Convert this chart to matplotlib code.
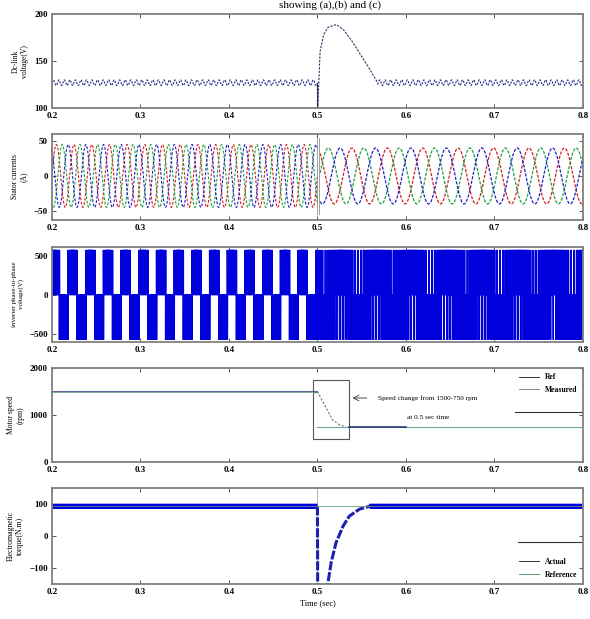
import numpy as np
import matplotlib
matplotlib.use('Agg')
import matplotlib.pyplot as plt
from matplotlib.patches import Rectangle
from matplotlib.lines import Line2D

plt.rcParams['font.family'] = ['Liberation Serif', 'DejaVu Serif']
plt.rcParams['font.weight'] = 'bold'

# ---- values ----
x_ticks = [0.2, 0.3, 0.4, 0.5, 0.6, 0.7, 0.8]
x_labels = ['0.2', '0.3', '0.4', '0.5', '0.6', '0.7', '0.8']
t_step = 0.5

# dc-link voltage
dc_level = 127
dc_ripple = 3
dc_ripple_hz = 160
dc_t = [0.5, 0.5004, 0.503, 0.507, 0.512, 0.5215, 0.53, 0.54, 0.55, 0.56, 0.568]
dc_v = [127, 100, 160, 178, 186, 189, 183, 170, 155, 140, 127]
dc_yticks = [100, 150, 200]

# stator currents
i_amp = [45, 40]        # before / after the step
i_hz = [50, 25]
i_start_after = 0.503
i_yticks = [-50, 0, 50]

# inverter line voltage
v_dc = 570
v_mod = [0.9, 0.6]
v_carrier_hz = [2000, 2300]
v_carrier_shift = [0.08, 0.3]
v_yticks = [-500, 0, 500]

# motor speed
sp_before = 1500
sp_after = 750
sp_t = [0.5, 0.505, 0.51, 0.517, 0.525, 0.532]
sp_v = [1500, 1320, 1150, 900, 790, 750]
sp_yticks = [0, 1000, 2000]
box_t = [0.4949, 0.5356]
box_v = [489, 1745]

# electromagnetic torque
tq_ref = 95
tq_level = 93
tq_ripple = 7
tq_ripple_hz = 1000
tq_t = [0.5, 0.5003, 0.5117, 0.5155, 0.521, 0.529, 0.536, 0.5475, 0.559]
tq_v = [93, -170, -150, -83, -21, 31, 62, 84, 93]
tq_yticks = [-100, 0, 100]

fig = plt.figure(figsize=(5.9, 6.19), dpi=100)
L, W = 0.088, 0.900
rects = [(0.8255, 0.1515), (0.6446, 0.1389), (0.4475, 0.1535),
         (0.2536, 0.1519), (0.0565, 0.1551)]
axes = [fig.add_axes([L, b, W, h]) for b, h in rects]

navy = '#2a2a8a'
blue = '#0000dd'

# (1) dc-link voltage
ax = axes[0]
t1 = np.arange(0.2, 0.5, 2e-4)
ax.plot(t1, dc_level + dc_ripple * np.sin(2 * np.pi * dc_ripple_hz * t1),
        color=navy, lw=0.8, ls=(0, (2, 1.2)))
ax.plot(dc_t, dc_v, color='#303060', lw=0.8, ls=(0, (2, 1.2)))
t1b = np.arange(0.568, 0.8, 2e-4)
ax.plot(t1b, dc_level + dc_ripple * np.sin(2 * np.pi * dc_ripple_hz * t1b),
        color=navy, lw=0.8, ls=(0, (2, 1.2)))
ax.plot([0.5, 0.5], [dc_level, 100], color='#303060', lw=0.8)
ax.set_ylim(100, 200)
ax.set_yticks(dc_yticks)
ax.set_ylabel('Dc-link\nvoltage(V)')

# (2) stator currents
ax = axes[1]
cols = ['#d42020', '#20a040', '#2020c8']
t2a = np.arange(0.2, 0.5, 1e-4)
t2b = np.arange(i_start_after, 0.8, 1e-4)
for k, c in enumerate(cols):
    ph = -2 * np.pi * k / 3
    ax.plot(t2a, i_amp[0] * np.sin(2 * np.pi * i_hz[0] * t2a + ph),
            color=c, lw=0.8, ls=(0, (2.5, 1.5)))
    ax.plot(t2b, i_amp[1] * np.sin(2 * np.pi * i_hz[1] * (t2b - i_start_after) + ph + 2.2),
            color=c, lw=0.9, ls=(0, (2.5, 1.2)))
ax.plot([0.5, 0.5], [-55, 55], color='#909090', lw=0.6)
ax.plot([0.502, 0.502], [-55, 55], color='#909090', lw=0.6)
ax.set_ylim(-63, 60)
ax.set_yticks(i_yticks)
ax.set_ylabel('Stator currents\n(A)')

# (3) inverter line voltage (sinusoidal PWM)
ax = axes[2]
t3 = np.arange(0.2, 0.8, 1e-5)
after = t3 >= t_step
f_ref = np.where(after, i_hz[1], i_hz[0])
m = np.where(after, v_mod[1], v_mod[0])
fc = np.where(after, v_carrier_hz[1], v_carrier_hz[0])
shift = np.where(after, v_carrier_shift[1], v_carrier_shift[0])
tri_a = 2 * np.abs(2 * ((t3 * fc) % 1) - 1) - 1
fb = np.where(after, fc * 1.13, fc)
tri_b = 2 * np.abs(2 * ((t3 * fb + shift) % 1) - 1) - 1
va = np.sign(m * np.sin(2 * np.pi * f_ref * t3) - tri_a)
vb = np.sign(m * np.sin(2 * np.pi * f_ref * t3 - 2 * np.pi / 3) - tri_b)
ax.plot(t3, v_dc / 2 * (va - vb), color=blue, lw=0.5)
ax.set_ylim(-600, 610)
ax.set_yticks(v_yticks)
ax.set_ylabel('inverter phase-to-phase\nvoltage(V)', fontsize=5)

# (4) motor speed
ax = axes[3]
ax.plot([0.2, t_step], [sp_before, sp_before], color='#3a4a8a', lw=1.2)
ax.plot([0.2, box_t[0]], [sp_before, sp_before], color='#7fb0a0', lw=0.7)
ax.plot(sp_t, sp_v, color='#707070', lw=0.8, ls=(0, (2, 1.5)))
ax.plot([t_step, 0.8], [sp_after, sp_after], color='#6aa89a', lw=0.8)
ax.plot([box_t[1], 0.6], [sp_after, sp_after], color='#2a3a7a', lw=1.2)
ax.add_patch(Rectangle((box_t[0], box_v[0]), box_t[1] - box_t[0], box_v[1] - box_v[0],
                       fill=False, ec='#555555', lw=0.8))
ax.annotate('', xy=(0.5365, 1362), xytext=(0.559, 1362),
            arrowprops=dict(arrowstyle='->', color='#333333', lw=0.6))
ax.text(0.625, 1362, 'Speed change from 1500-750 rpm', fontsize=5.2,
        ha='center', va='center', fontweight='normal')
ax.text(0.625, 957, 'at 0.5 sec time', fontsize=5.2, ha='center', va='center',
        fontweight='normal')
h4 = [Line2D([], [], color='#333333', lw=0.7), Line2D([], [], color='#888888', lw=0.7)]
ax.legend(h4, ['Ref', 'Measured'], loc='upper right', frameon=False, fontsize=5.5,
          handlelength=2.6, borderaxespad=0.3, labelspacing=0.6)
ax.plot([0.872, 1.0], [0.53, 0.53], transform=ax.transAxes, color='#333333', lw=0.8)
ax.set_ylim(0, 2000)
ax.set_yticks(sp_yticks)
ax.set_ylabel('Motor speed\n(rpm)')

# (5) electromagnetic torque
ax = axes[4]
ax.axvline(t_step, color='#b0b0b0', lw=0.7)
t5a = np.arange(0.2, 0.5, 1e-4)
ax.plot(t5a, tq_level + tq_ripple * np.sin(2 * np.pi * tq_ripple_hz * t5a * 1.07),
        color=blue, lw=0.7)
ax.plot(tq_t, tq_v, color='#2020b0', lw=2.2, ls=(0, (3, 0.6)))
t5b = np.arange(0.559, 0.8, 1e-4)
ax.plot(t5b, tq_level + tq_ripple * np.sin(2 * np.pi * tq_ripple_hz * t5b * 1.07),
        color=blue, lw=0.7)
ax.plot([0.2, 0.8], [tq_ref, tq_ref], color='#60a070', lw=0.7, alpha=0.8)
h5 = [Line2D([], [], color='#333333', lw=0.7), Line2D([], [], color='#60a070', lw=0.7)]
ax.legend(h5, ['Actual', 'Reference'], loc='lower right', frameon=False, fontsize=5.5,
          handlelength=2.6, borderaxespad=0.3, labelspacing=0.6)
ax.plot([0.877, 1.0], [0.4375, 0.4375], transform=ax.transAxes, color='#333333', lw=0.8)
ax.set_ylim(-150, 150)
ax.set_yticks(tq_yticks)
ax.set_ylabel('Electromagnetic\ntorque(N.m)')
ax.set_xlabel('Time (sec)', fontsize=6, fontweight='normal', labelpad=2)

for ax in axes:
    ax.set_xlim(0.2, 0.8)
    ax.set_xticks(x_ticks)
    ax.set_xticklabels(x_labels)
    ax.tick_params(direction='in', top=True, right=True, length=3, width=0.7,
                   color='#555555', labelsize=6.5, pad=3)
    for s in ax.spines.values():
        s.set_color('#808080')
        s.set_linewidth(1.3)
    if ax.get_ylabel() and ax.yaxis.label.get_fontsize() > 5.5:
        ax.yaxis.label.set_fontsize(5.5)
    ax.yaxis.labelpad = 4
fig.align_ylabels(axes)

fig.text(0.56, 0.999, 'showing (a),(b) and (c)', fontsize=8, ha='center',
         va='top', fontweight='normal')

fig.savefig('out.png', dpi=100)
